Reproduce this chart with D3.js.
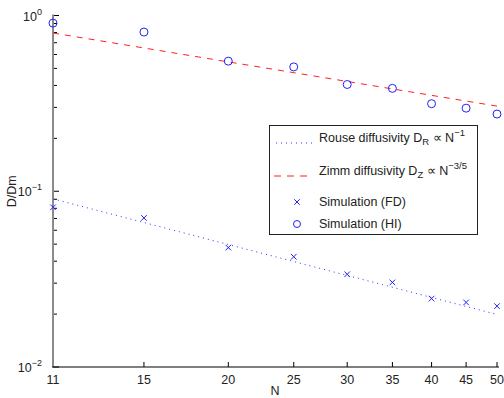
<!DOCTYPE html>
<html lang="en">
<head>
<meta charset="utf-8">
<title>D/Dm vs N</title>
<script src="https://cdn.jsdelivr.net/npm/d3@7"></script>
<style>
  body { margin: 0; background: #fff; }
  text { font-family: "Liberation Sans", Arial, sans-serif; fill: #222; }
</style>
</head>
<body>
<script>
// data
var chainN = [11, 15, 20, 25, 30, 35, 40, 45, 50];
var simHI = [0.905, 0.805, 0.55, 0.51, 0.405, 0.385, 0.315, 0.297, 0.275];
var simFD = [0.081, 0.0705, 0.0478, 0.0424, 0.0337, 0.0303, 0.0245, 0.0233, 0.0222];
// theory lines (straight on log-log, end points)
var theoryN = [11, 50];
var rouseD = [0.0905, 0.0199];
var zimmD = [0.795, 0.305];
var xTicks = [11, 15, 20, 25, 30, 35, 40, 45, 50];
var yMajor = [1, 0.1, 0.01];

var w = 504, h = 398;
var padL = 53, padR = 497, padT = 15.5, padB = 367;

var svg = d3.select('body').append('svg')
    .attr('width', w)
    .attr('height', h);

var x = d3.scaleLog().domain([11, 50]).range([padL, padR]);
var y = d3.scaleLog().domain([0.01, 1]).range([padB, padT]);

// minor ticks on y
var yMinor = [];
[0.01, 0.1].forEach(function(d) {
    for (var k = 2; k <= 9; k++) yMinor.push(d * k);
});

svg.selectAll('.ymin').data(yMinor).enter().append('line')
    .attr('x1', padL).attr('x2', padL + 4)
    .attr('y1', function(d) { return y(d); })
    .attr('y2', function(d) { return y(d); })
    .attr('stroke', '#000').attr('stroke-width', 1);

svg.selectAll('.ymaj').data(yMajor).enter().append('line')
    .attr('x1', padL).attr('x2', padL + 6)
    .attr('y1', function(d) { return y(d); })
    .attr('y2', function(d) { return y(d); })
    .attr('stroke', '#000').attr('stroke-width', 1);

// y tick labels 10^k
var ylab = svg.selectAll('.ylab').data(yMajor).enter().append('text')
    .attr('x', padL - 11)
    .attr('y', function(d) { return y(d) + 5; })
    .attr('text-anchor', 'end')
    .attr('font-size', '12.5px');
ylab.append('tspan').text('10');
ylab.append('tspan')
    .attr('dy', -6)
    .attr('font-size', '9px')
    .text(function(d) { return String(Math.round(Math.log10(d))).replace('-', '\u2212'); });

// x ticks
svg.selectAll('.xt').data(xTicks).enter().append('line')
    .attr('x1', function(d) { return x(d); })
    .attr('x2', function(d) { return x(d); })
    .attr('y1', padB).attr('y2', padB - 5)
    .attr('stroke', '#000').attr('stroke-width', 1);

svg.selectAll('.xl').data(xTicks).enter().append('text')
    .attr('x', function(d) { return x(d); })
    .attr('y', padB + 17)
    .attr('text-anchor', 'middle')
    .attr('font-size', '12.5px')
    .text(function(d) { return d; });

// spines
svg.append('line')
    .attr('x1', padL).attr('x2', padL)
    .attr('y1', padT - 1).attr('y2', padB)
    .attr('stroke', '#8a8a8a').attr('stroke-width', 2);
svg.append('line')
    .attr('x1', padL - 1).attr('x2', padR + 2)
    .attr('y1', padB).attr('y2', padB)
    .attr('stroke', '#000').attr('stroke-width', 1.2);

// axis titles
svg.append('text')
    .attr('x', 275).attr('y', 395)
    .attr('text-anchor', 'middle')
    .attr('font-size', '12.5px')
    .text('N');
svg.append('text')
    .attr('transform', 'translate(16,' + y(0.1) + ') rotate(-90)')
    .attr('text-anchor', 'middle')
    .attr('font-size', '12.5px')
    .text('D/Dm');

// theory lines
var line = d3.line()
    .x(function(d) { return x(d[0]); })
    .y(function(d) { return y(d[1]); });

svg.append('path')
    .datum(d3.zip(theoryN, rouseD))
    .attr('d', line)
    .attr('fill', 'none')
    .attr('stroke', '#3030ff')
    .attr('stroke-width', 1)
    .attr('stroke-dasharray', '1,4');

svg.append('path')
    .datum(d3.zip(theoryN, zimmD))
    .attr('d', line)
    .attr('fill', 'none')
    .attr('stroke', '#ff2020')
    .attr('stroke-width', 1)
    .attr('stroke-dasharray', '6,6');

// simulation markers
svg.selectAll('.hi').data(d3.zip(chainN, simHI)).enter().append('circle')
    .attr('cx', function(d) { return x(d[0]); })
    .attr('cy', function(d) { return y(d[1]); })
    .attr('r', 4)
    .attr('fill', 'none')
    .attr('stroke', '#2020ff')
    .attr('stroke-width', 1);

var cross = d3.symbol().type(d3.symbolX).size(22);
svg.selectAll('.fd').data(d3.zip(chainN, simFD)).enter().append('path')
    .attr('d', cross)
    .attr('transform', function(d) { return 'translate(' + x(d[0]) + ',' + y(d[1]) + ')'; })
    .attr('fill', 'none')
    .attr('stroke', '#2020ff')
    .attr('stroke-width', 1);

// legend
var lg = svg.append('g');
lg.append('rect')
    .attr('x', 269.5).attr('y', 125.5)
    .attr('width', 208).attr('height', 109)
    .attr('fill', '#fff')
    .attr('stroke', '#222')
    .attr('stroke-width', 1);

var lx1 = 276, lx2 = 312, tx = 319, mx = 297;

lg.append('line').attr('x1', lx1).attr('x2', lx2).attr('y1', 143).attr('y2', 143)
    .attr('stroke', '#3030ff').attr('stroke-dasharray', '1,4');
var t1 = lg.append('text').attr('x', tx).attr('y', 142).attr('font-size', '12.5px');
t1.append('tspan').text('Rouse diffusivity D');
t1.append('tspan').attr('dy', 3).attr('font-size', '9.5px').text('R');
t1.append('tspan').attr('dy', -3).text(' \u221D N');
t1.append('tspan').attr('dy', -6).attr('font-size', '9.5px').text('\u22121');

lg.append('line').attr('x1', lx1 - 2).attr('x2', lx2).attr('y1', 176).attr('y2', 176)
    .attr('stroke', '#ff2020').attr('stroke-dasharray', '7,6');
var t2 = lg.append('text').attr('x', tx).attr('y', 175).attr('font-size', '12.5px');
t2.append('tspan').text('Zimm diffusivity D');
t2.append('tspan').attr('dy', 3).attr('font-size', '9.5px').text('Z');
t2.append('tspan').attr('dy', -3).text(' \u221D N');
t2.append('tspan').attr('dy', -6).attr('font-size', '9.5px').text('\u22123/5');

lg.append('path').attr('d', cross)
    .attr('transform', 'translate(' + mx + ',202)')
    .attr('fill', 'none').attr('stroke', '#2020ff');
lg.append('text').attr('x', tx).attr('y', 206).attr('font-size', '12.5px').text('Simulation (FD)');

lg.append('circle').attr('cx', mx).attr('cy', 224).attr('r', 3.5)
    .attr('fill', 'none').attr('stroke', '#2020ff');
lg.append('text').attr('x', tx).attr('y', 228).attr('font-size', '12.5px').text('Simulation (HI)');
</script>
</body>
</html>
